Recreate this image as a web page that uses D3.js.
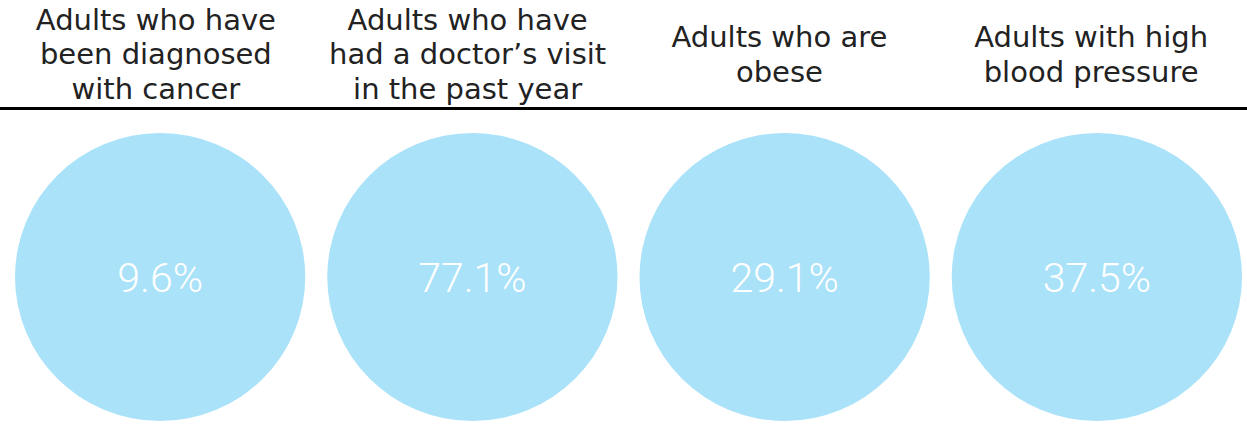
<!DOCTYPE html>
<html>
<head>
<meta charset="utf-8">
<script src="https://cdn.jsdelivr.net/npm/d3@7"></script>
<style>
  html, body { margin: 0; padding: 0; background: #ffffff; }
  svg { display: block; }
</style>
</head>
<body>
<div id="chart"></div>
<script>
// Indicator headings, one array of lines per column
const categories = ["cancer", "doctor", "obese", "bloodPressure"];
const headerLines = [
  ["Adults who have", "been diagnosed", "with cancer"],
  ["Adults who have", "had a doctor\u2019s visit", "in the past year"],
  ["Adults who are", "obese"],
  ["Adults with high", "blood pressure"]
];
// Share of adults, in percent
const values = [9.6, 77.1, 29.1, 37.5];

const width = 1247, height = 444;
const fmt = d => d3.format(".1f")(d) + "%";

const data = categories.map((c, i) => ({ key: c, lines: headerLines[i], value: values[i] }));

const svg = d3.select("#chart").append("svg")
  .attr("width", width)
  .attr("height", height);

// Heading columns span the full width
const xHead = d3.scaleBand().domain(categories).range([0, width]);
// Bubble columns sit inside a small side margin
const xBubble = d3.scaleBand().domain(categories).range([15, 1242]).paddingInner(0.0704);

const lineHeight = 34.7;
const headMid = 64.3;

// Column headings, vertically centred on a common midline
const heads = svg.append("g").attr("class", "headings")
  .selectAll("text")
  .data(data)
  .join("text")
  .attr("text-anchor", "middle")
  .attr("font-family", "'DejaVu Sans', sans-serif")
  .attr("font-size", 29)
  .attr("fill", "#222222");

heads.each(function(d) {
  const n = d.lines.length;
  const firstBaseline = headMid - (n - 1) * lineHeight / 2;
  d3.select(this).selectAll("tspan")
    .data(d.lines)
    .join("tspan")
    .attr("x", xHead(d.key) + xHead.bandwidth() / 2)
    .attr("y", (l, i) => firstBaseline + i * lineHeight)
    .text(l => l);
});

// Rule beneath the headings
svg.append("line")
  .attr("x1", 0).attr("x2", width)
  .attr("y1", 108.5).attr("y2", 108.5)
  .attr("stroke", "#000000")
  .attr("stroke-width", 3);

// Bubbles
const cy = 277, ry = 144;
const bubbles = svg.append("g").attr("class", "bubbles")
  .selectAll("g")
  .data(data)
  .join("g")
  .attr("transform", d => `translate(${xBubble(d.key) + xBubble.bandwidth() / 2},${cy})`);

bubbles.append("ellipse")
  .attr("rx", xBubble.bandwidth() / 2)
  .attr("ry", ry)
  .attr("fill", "#a9e2f9");

bubbles.append("text")
  .attr("text-anchor", "middle")
  .attr("y", 14.5)
  .attr("font-family", "Roboto, 'Open Sans', sans-serif")
  .attr("font-weight", 300)
  .attr("font-size", 41)
  .attr("fill", "#ffffff")
  .text(d => fmt(d.value));
</script>
</body>
</html>
